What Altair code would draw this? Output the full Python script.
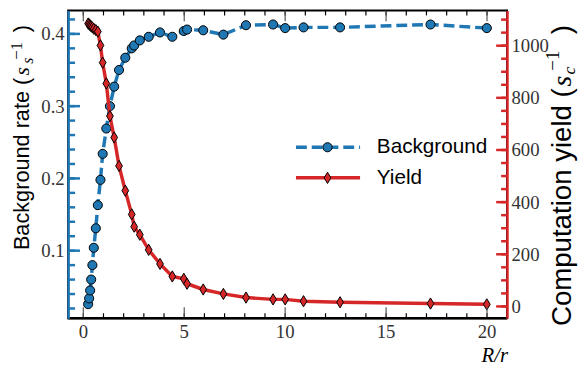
import altair as alt
import pandas as pd

# ---------------- data ----------------
R_ratio = [0.24, 0.29, 0.34, 0.39, 0.45, 0.52, 0.62, 0.72, 0.85, 0.96,
           1.14, 1.32, 1.53, 1.77, 2.08, 2.40, 2.52, 2.80, 3.24, 3.80,
           4.41, 4.98, 5.14, 5.94, 6.94, 8.06, 9.40, 10.0, 10.91, 12.72,
           17.20, 19.99]
background_rate = [0.026, 0.034, 0.045, 0.060, 0.080, 0.104, 0.131, 0.163, 0.198, 0.234,
                   0.269, 0.300, 0.327, 0.350, 0.367, 0.380, 0.384, 0.391, 0.396, 0.402,
                   0.396, 0.404, 0.406, 0.405, 0.399, 0.412, 0.413, 0.408, 0.409, 0.409,
                   0.413, 0.408]
computation_yield = [1085, 1082, 1078, 1074, 1070, 1065, 1060, 1054, 1001, 935,
                     855, 730, 648, 539, 444, 353, 306, 275, 217, 163,
                     115, 106, 87, 65, 48, 34, 27, 27, 20, 16,
                     11, 8]

x_ticks_major = [0, 5, 10, 15, 20]
x_ticks_minor = list(range(0, 21))
bg_ticks_major = [0.1, 0.2, 0.3, 0.4]
bg_ticks_minor = [round(0.02 * i, 2) for i in range(1, 22)]
yield_ticks_major = [0, 200, 400, 600, 800, 1000]
yield_ticks_minor = list(range(0, 1101, 50))

legend_labels = ["Background", "Yield"]

BLUE = "#1f77b4"
RED = "#d62728"
W, H = 445, 312
SERIF = "Liberation Serif"
SANS = "Liberation Sans"
DIAMOND = "M0,-1L0.6,0L0,1L-0.6,0Z"

df = pd.DataFrame({"R": R_ratio, "bg": background_rate, "yld": computation_yield})
one = pd.DataFrame({"k": [0]})

xs = alt.Scale(domain=[-0.75, 20.99], nice=False, zero=False)
ys_bg = alt.Scale(domain=[0.0066, 0.4324], nice=False, zero=False)
ys_y = alt.Scale(domain=[-45, 1135], nice=False, zero=False)

left_axis = alt.Axis(values=bg_ticks_major, format=".1f", ticks=False, domainColor=BLUE,
                     domainWidth=2.5, labelFont=SERIF, labelFontSize=19, labelColor="#333333",
                     labelPadding=4, title="", grid=False, orient="left", zindex=1)
right_axis = alt.Axis(values=yield_ticks_major, format="d", ticks=False, domainColor=RED,
                      domainWidth=2.5, labelFont=SERIF, labelFontSize=19, labelColor="#333333",
                      labelPadding=4, title="", grid=False, orient="right", zindex=1)

X = alt.X("R:Q", scale=xs, axis=None)

# ---------------- background series ----------------
bg_line = alt.Chart(df).mark_line(color=BLUE, strokeWidth=3.5, strokeDash=[11, 5]).encode(
    x=X, y=alt.Y("bg:Q", scale=ys_bg, axis=left_axis))
bg_pts = alt.Chart(df).mark_circle(color=BLUE, opacity=1, size=85, stroke="black",
                                   strokeWidth=1).encode(
    x=X, y=alt.Y("bg:Q", scale=ys_bg, axis=None))
bg_tmaj = alt.Chart(pd.DataFrame({"t": bg_ticks_major})).mark_rule(color=BLUE, strokeWidth=2.5).encode(
    y=alt.Y("t:Q", scale=ys_bg, axis=None), x=alt.value(0), x2=alt.value(12))
bg_tmin = alt.Chart(pd.DataFrame({"t": bg_ticks_minor})).mark_rule(color=BLUE, strokeWidth=2.5).encode(
    y=alt.Y("t:Q", scale=ys_bg, axis=None), x=alt.value(0), x2=alt.value(7))

# ---------------- yield series ----------------
y_line = alt.Chart(df).mark_line(color=RED, strokeWidth=3.5).encode(
    x=X, y=alt.Y("yld:Q", scale=ys_y, axis=right_axis))
y_pts = alt.Chart(df).mark_point(shape=DIAMOND, filled=True, fill=RED, opacity=1, size=130,
                                 stroke="black", strokeWidth=1).encode(
    x=X, y=alt.Y("yld:Q", scale=ys_y, axis=None))
y_tmaj = alt.Chart(pd.DataFrame({"t": yield_ticks_major})).mark_rule(color=RED, strokeWidth=2.5).encode(
    y=alt.Y("t:Q", scale=ys_y, axis=None), x=alt.value(W), x2=alt.value(W - 11))
y_tmin = alt.Chart(pd.DataFrame({"t": yield_ticks_minor})).mark_rule(color=RED, strokeWidth=2.5).encode(
    y=alt.Y("t:Q", scale=ys_y, axis=None), x=alt.value(W), x2=alt.value(W - 6))

# ---------------- x ticks (inside, bottom and top) and labels ----------------
def xtick(vals, y1, y2, color, width):
    return alt.Chart(pd.DataFrame({"t": vals})).mark_rule(color=color, strokeWidth=width).encode(
        x=alt.X("t:Q", scale=xs, axis=None), y=alt.value(y1), y2=alt.value(y2))

ticks = [xtick(x_ticks_minor, H, H - 5, "black", 1.2),
         xtick(x_ticks_major, H, H - 11, "#555555", 1.2),
         xtick(x_ticks_minor, 0, 5, "black", 1.2),
         xtick(x_ticks_major, 0, 11, "#555555", 1.2)]

x_labels = alt.Chart(pd.DataFrame({"t": x_ticks_major})).mark_text(
    baseline="alphabetic", align="center", font=SERIF, fontSize=19, color="#333333").encode(
    x=alt.X("t:Q", scale=xs, axis=None), y=alt.value(H + 20), text=alt.Text("t:Q", format="d"))

bottom_spine = alt.Chart(one).mark_rule(color="black", strokeWidth=2.5).encode(
    x=alt.value(0), x2=alt.value(W), y=alt.value(H))

# ---------------- text helpers ----------------
def txt(s, x, y, size, font, style="normal", angle=270, align="left", baseline="alphabetic",
        color="black"):
    return alt.Chart(one).mark_text(text=s, angle=angle, align=align, baseline=baseline,
                                    font=font, fontSize=size, fontStyle=style, color=color).encode(
        x=alt.value(x), y=alt.value(y))

texts = [
    # left title: Background rate (s_s^-1)
    txt("Background rate (", -40, 243, 22, SANS),
    txt("s", -40, 66, 22, SERIF, "italic"),
    txt("s", -36, 54, 16, SERIF, "italic"),
    txt("\u22121", -47, 50, 17, SERIF),
    txt(")", -40, 22, 22, SANS),
    # right title: Computation yield (s_c^-1)
    txt("Computation yield (", 510, 320, 28, SANS),
    txt("s", 510, 77, 28, SERIF, "italic"),
    txt("c", 514, 65, 18, SERIF, "italic"),
    txt("\u22121", 498, 61, 19, SERIF),
    txt(")", 510, 24, 28, SANS),
    # x title
    txt("R/r", 446, 356, 21, SERIF, "italic", angle=0, align="right"),
]

# ---------------- legend ----------------
legend = [
    alt.Chart(one).mark_rule(color=BLUE, strokeWidth=3.5, strokeDash=[11, 5]).encode(
        x=alt.value(231), x2=alt.value(296), y=alt.value(138.7)),
    alt.Chart(one).mark_circle(color=BLUE, opacity=1, size=85, stroke="black", strokeWidth=1).encode(
        x=alt.value(263), y=alt.value(138.7)),
    txt(legend_labels[0], 313, 139, 21, SANS, angle=0, baseline="middle"),
    alt.Chart(one).mark_rule(color=RED, strokeWidth=3.5).encode(
        x=alt.value(231), x2=alt.value(296), y=alt.value(169.7)),
    alt.Chart(one).mark_point(shape=DIAMOND, filled=True, fill=RED, opacity=1, size=130,
                              stroke="black", strokeWidth=1).encode(
        x=alt.value(263), y=alt.value(169.7)),
    txt(legend_labels[1], 313, 170, 21, SANS, angle=0, baseline="middle"),
]

chart = alt.layer(bg_line, bg_pts, bg_tmaj, bg_tmin, y_line, y_pts, y_tmaj, y_tmin,
                  *ticks, x_labels, bottom_spine, *texts, *legend).resolve_scale(
    y="independent"
).properties(
    width=W, height=H,
    autosize=alt.AutoSizeParams(type="none"),
    padding={"left": 61, "top": 0, "right": 73, "bottom": 47},
).configure_view(stroke="black", strokeWidth=2)

chart.save("out.html", embed_options={"renderer": "svg", "actions": False})
